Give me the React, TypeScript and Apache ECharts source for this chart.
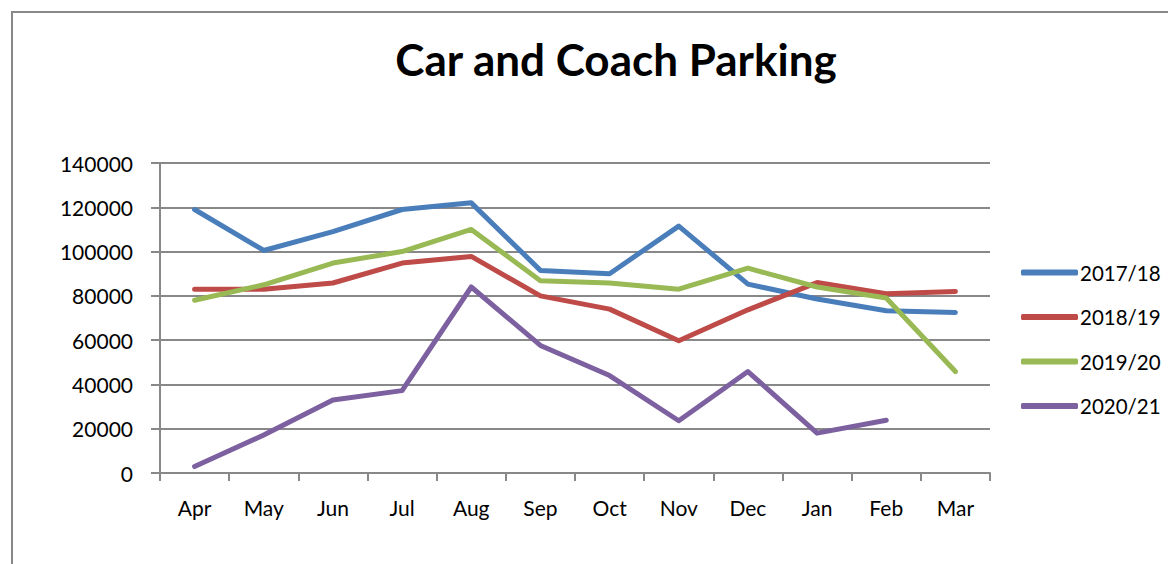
import React, { useEffect, useRef } from "react";
import * as echarts from "echarts";

const categories = ["Apr", "May", "Jun", "Jul", "Aug", "Sep", "Oct", "Nov", "Dec", "Jan", "Feb", "Mar"];
const yTicks = [0, 20000, 40000, 60000, 80000, 100000, 120000, 140000];
const s2017 = [119000, 100500, 109000, 119000, 122000, 91500, 90000, 111500, 85300, 78600, 73300, 72500];
const s2018 = [83000, 83000, 85800, 94800, 97800, 80000, 74000, 59700, 73700, 86000, 81000, 82000];
const s2019 = [78000, 85000, 94800, 100000, 110000, 86800, 85800, 83000, 92500, 84000, 79000, 45800];
const s2020 = [2900, 17200, 33000, 37200, 84000, 57600, 44000, 23600, 45800, 18000, 23800, null];

const seriesNames = ["2017/18", "2018/19", "2019/20", "2020/21"];
const colors = ["#4A7EBB", "#BE4B48", "#98B954", "#7D60A0"];

export default function App() {
  const ref = useRef<HTMLDivElement>(null);
  useEffect(() => {
    if (!ref.current) return;
    const chart = echarts.init(ref.current, null, { renderer: "svg" });
    const font = "Lato, 'Open Sans', sans-serif";
    const data = [s2017, s2018, s2019, s2020];
    chart.setOption({
      animation: false,
      backgroundColor: "#ffffff",
      textStyle: { fontFamily: font },
      title: {
        text: "Car and Coach Parking",
        left: 611,
        textAlign: "center",
        top: 32,
        textStyle: { fontFamily: font, fontSize: 44, fontWeight: "bold", color: "#000" },
      },
      graphic: [
        {
          type: "rect",
          shape: { x: 12, y: 12, width: 1400, height: 800 },
          style: { fill: "none", stroke: "#888888", lineWidth: 2 },
          silent: true,
          z: -1,
        },
      ],
      legend: {
        orient: "vertical",
        left: 1016,
        top: 257,
        itemWidth: 57,
        itemHeight: 6,
        itemGap: 23.5,
        icon: "roundRect",
        data: seriesNames,
        textStyle: { fontFamily: font, fontSize: 20.5, color: "#000", lineHeight: 20, padding: [0, 0, 0, -3] },
      },
      grid: { left: 160, right: 178, top: 163, bottom: 91, containLabel: false },
      xAxis: {
        type: "category",
        data: categories,
        boundaryGap: true,
        axisLine: { show: true, lineStyle: { color: "#888888", width: 2 } },
        axisTick: { show: true, interval: 0, length: 8, lineStyle: { color: "#888888", width: 2 } },
        axisLabel: { interval: 0, margin: 24, fontFamily: font, fontSize: 21, color: "#000" },
        splitLine: { show: false },
      },
      yAxis: {
        type: "value",
        min: yTicks[0],
        max: yTicks[yTicks.length - 1],
        interval: yTicks[1] - yTicks[0],
        axisLine: { show: true, lineStyle: { color: "#888888", width: 2 } },
        axisTick: { show: true, length: 9, lineStyle: { color: "#888888", width: 2 } },
        axisLabel: {
          margin: 27,
          fontFamily: font,
          fontSize: 21,
          color: "#000",
          formatter: (v: number) => String(v),
        },
        splitLine: { show: true, lineStyle: { color: "#888888", width: 2 } },
      },
      series: seriesNames.map((name, i) => ({
        name,
        type: "line",
        data: data[i],
        symbol: "none",
        connectNulls: false,
        color: colors[i],
        lineStyle: { color: colors[i], width: 5, cap: "round", join: "round" },
      })),
    });
    return () => chart.dispose();
  }, []);
  return <div ref={ref} style={{ position: "fixed", left: 0, top: 0, width: 1168, height: 564 }} />;
}
